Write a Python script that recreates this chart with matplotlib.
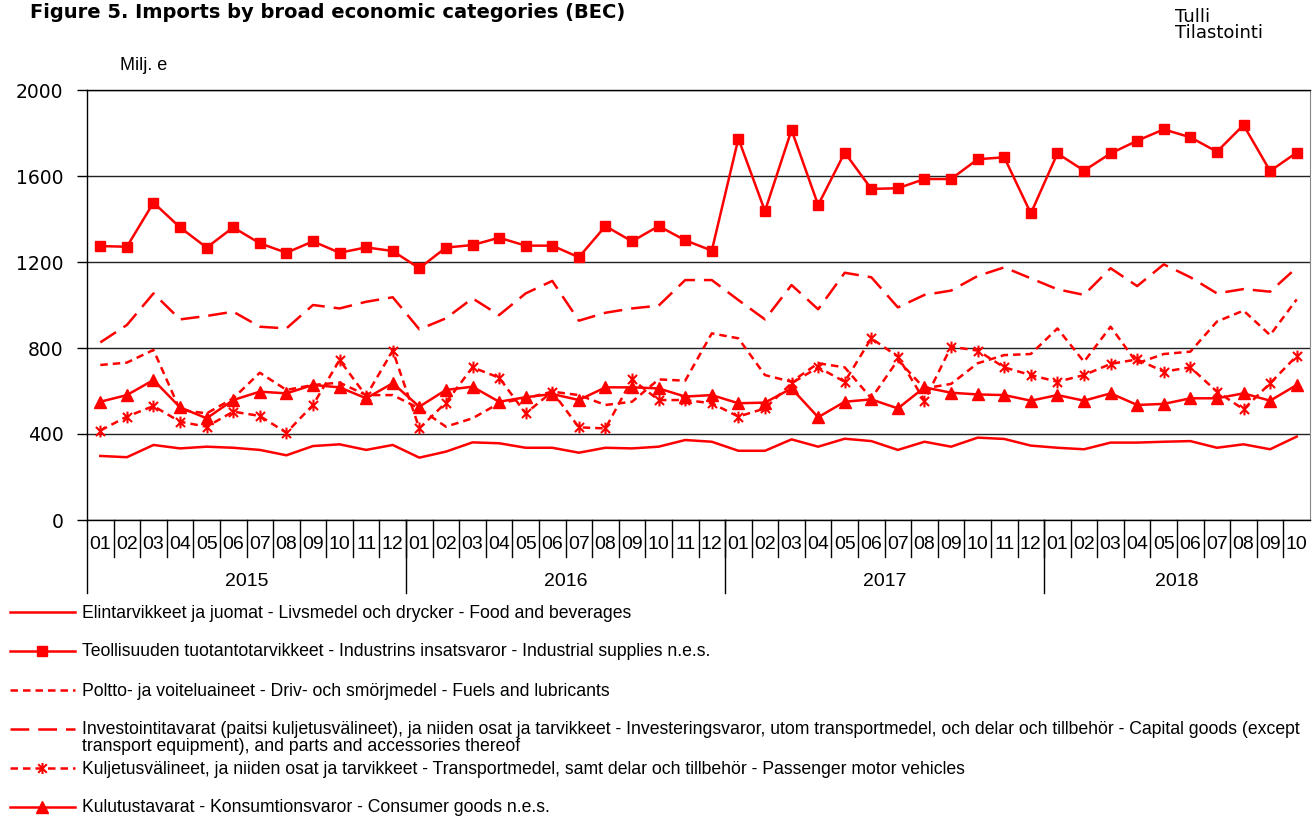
import numpy as np
import matplotlib
matplotlib.use('Agg')
import matplotlib.pyplot as plt
from matplotlib.path import Path
from matplotlib.lines import Line2D
import matplotlib.transforms as mtransforms

plt.rcParams['font.family'] = ['Liberation Sans', 'DejaVu Sans']

### data, Milj. e, 2015-01 .. 2018-10
months = ['01', '02', '03', '04', '05', '06', '07', '08', '09', '10', '11', '12'] * 3 + \
         ['01', '02', '03', '04', '05', '06', '07', '08', '09', '10']
years = ['2015', '2016', '2017', '2018']
year_len = [12, 12, 12, 10]

food = [298, 292, 349, 333, 341, 336, 326, 301, 344, 352, 326, 349,
        290, 318, 361, 357, 336, 336, 313, 336, 333, 341, 372, 364,
        322, 322, 375, 341, 378, 367, 326, 364, 341, 383, 377, 346,
        336, 329, 360, 360, 364, 367, 336, 352, 329, 388]
industrial = [1274, 1271, 1476, 1361, 1267, 1361, 1287, 1243, 1296, 1243, 1268, 1251,
              1171, 1267, 1279, 1313, 1276, 1276, 1222, 1367, 1296, 1367, 1301, 1253,
              1774, 1437, 1814, 1465, 1709, 1540, 1543, 1586, 1586, 1678, 1687, 1426,
              1705, 1625, 1705, 1764, 1817, 1780, 1713, 1837, 1623, 1709]
fuels = [721, 732, 791, 512, 496, 566, 685, 605, 628, 639, 581, 581,
         519, 434, 473, 543, 566, 597, 581, 535, 550, 654, 648, 868,
         845, 674, 643, 729, 710, 566, 744, 612, 633, 729, 767, 772,
         891, 736, 899, 729, 772, 783, 923, 974, 860, 1026]
capital = [826, 907, 1054, 933, 949, 969, 899, 891, 1000, 984, 1015, 1036,
           887, 938, 1031, 953, 1054, 1112, 927, 964, 984, 997, 1116, 1116,
           1023, 933, 1093, 980, 1150, 1129, 989, 1047, 1067, 1135, 1175, 1124,
           1073, 1047, 1171, 1088, 1189, 1129, 1054, 1074, 1062, 1174]
transport = [416, 481, 530, 457, 434, 504, 484, 406, 535, 744, 577, 788,
             426, 546, 710, 662, 496, 597, 431, 426, 654, 558, 558, 543,
             481, 519, 636, 710, 643, 845, 760, 555, 806, 788, 710, 674,
             643, 674, 726, 747, 690, 710, 597, 515, 636, 763]
consumer = [550, 581, 651, 524, 473, 558, 597, 589, 628, 617, 566, 636,
            527, 605, 620, 550, 571, 586, 558, 617, 617, 612, 574, 581,
            543, 546, 612, 478, 550, 561, 519, 617, 592, 584, 581, 555,
            581, 555, 589, 535, 540, 566, 566, 589, 555, 628]

labels = ['Elintarvikkeet ja juomat - Livsmedel och drycker - Food and beverages',
          'Teollisuuden tuotantotarvikkeet - Industrins insatsvaror - Industrial supplies n.e.s.',
          'Poltto- ja voiteluaineet - Driv- och smörjmedel - Fuels and lubricants',
          'Investointitavarat (paitsi kuljetusvälineet), ja niiden osat ja tarvikkeet - Investeringsvaror, utom transportmedel, och delar och tillbehör - Capital goods (except\ntransport equipment), and parts and accessories thereof',
          'Kuljetusvälineet, ja niiden osat ja tarvikkeet - Transportmedel, samt delar och tillbehör - Passenger motor vehicles',
          'Kulutustavarat - Konsumtionsvaror - Consumer goods n.e.s.']

red = '#ff0000'
asterisk = Path([(-1, -1), (1, 1), (-1, 1), (1, -1), (0, -1.3), (0, 1.3)],
                [Path.MOVETO, Path.LINETO, Path.MOVETO, Path.LINETO, Path.MOVETO, Path.LINETO])

lw = 1.8
styles = [
    dict(linestyle='-'),
    dict(linestyle='-', marker='s', markersize=7),
    dict(linestyle=(0, (3.0, 2.0))),
    dict(linestyle=(0, (7.5, 3.6))),
    dict(linestyle=(0, (3.0, 2.0)), marker=asterisk, markersize=8.5, markeredgewidth=1.5, markerfacecolor='none'),
    dict(linestyle='-', marker='^', markersize=8.5),
]
series = [food, industrial, fuels, capital, transport, consumer]

W, H = 1313, 819
fig = plt.figure(figsize=(W / 100, H / 100), dpi=100)
ax = fig.add_axes([87 / W, 1 - 520 / H, (1310 - 87) / W, 430 / H])

x = np.arange(len(months))
for vals, st in zip(series, styles):
    ax.plot(x, vals, color=red, linewidth=lw, zorder=3, **st)

ax.set_xlim(-0.5, len(months) - 0.5)
ax.set_ylim(0, 2000)
ax.set_yticks([0, 400, 800, 1200, 1600, 2000])
ax.yaxis.grid(True, color='#222222', linewidth=1.0)
ax.set_axisbelow(True)
ax.tick_params(axis='y', length=7, width=1, labelsize=13.5, pad=10, direction='out')
for t in ax.get_yticklabels():
    t.set_fontfamily('DejaVu Sans')
ax.set_xticks([])
for s in ['left', 'bottom', 'top']:
    ax.spines[s].set_color('black')
    ax.spines[s].set_linewidth(1.0)
ax.spines['right'].set_color('#888888')

# category axis: months and years below
trans = mtransforms.blended_transform_factory(ax.transData, ax.transAxes)
for i, m in enumerate(months):
    ax.text(i, -0.058, m, transform=trans, ha='center', va='center', fontsize=14)
for i in range(1, len(months)):
    ax.plot([i - 0.5, i - 0.5], [0, -0.087], transform=trans, color='black',
            linewidth=1.0, clip_on=False)
start = 0
for yr, n in zip(years, year_len):
    ax.plot([start - 0.5, start - 0.5], [0, -0.17], transform=trans, color='black',
            linewidth=1.0, clip_on=False)
    ax.text(start + n / 2 - 0.5, -0.142, yr, transform=trans, ha='center', va='center', fontsize=14)
    start += n

# texts
fig.text(30 / W, 1 - 3 / H, 'Figure 5. Imports by broad economic categories (BEC)',
         fontsize=14, fontweight='bold', ha='left', va='top', family='DejaVu Sans')
fig.text(1175 / W, 1 - 8 / H, 'Tulli\nTilastointi', fontsize=13, ha='left', va='top',
         linespacing=0.85, family='DejaVu Sans')
fig.text(120 / W, 1 - 65 / H, 'Milj. e', fontsize=13, ha='left', va='center')

# legend
rows = [612, 651, 690, 729, 768, 807]
for yy, lab, st in zip(rows, labels, styles):
    fy = 1 - yy / H
    fig.add_artist(Line2D([10 / W, 75 / W], [fy, fy], color=red, linewidth=lw,
                          linestyle=st['linestyle']))
    if 'marker' in st:
        fig.add_artist(Line2D([42 / W], [fy], color=red, marker=st['marker'],
                              markersize=st['markersize'] - 0.5,
                              markeredgewidth=st.get('markeredgewidth', 1.0),
                              markerfacecolor=st.get('markerfacecolor', red), linestyle='none'))
    if '\n' in lab:
        fig.text(82 / W, 1 - (yy - 8) / H, lab, fontsize=12.7, ha='left', va='top', linespacing=0.98)
    else:
        fig.text(82 / W, 1 - (yy + 1) / H, lab, fontsize=12.7, ha='left', va='center')

fig.savefig('out.png', dpi=100)
